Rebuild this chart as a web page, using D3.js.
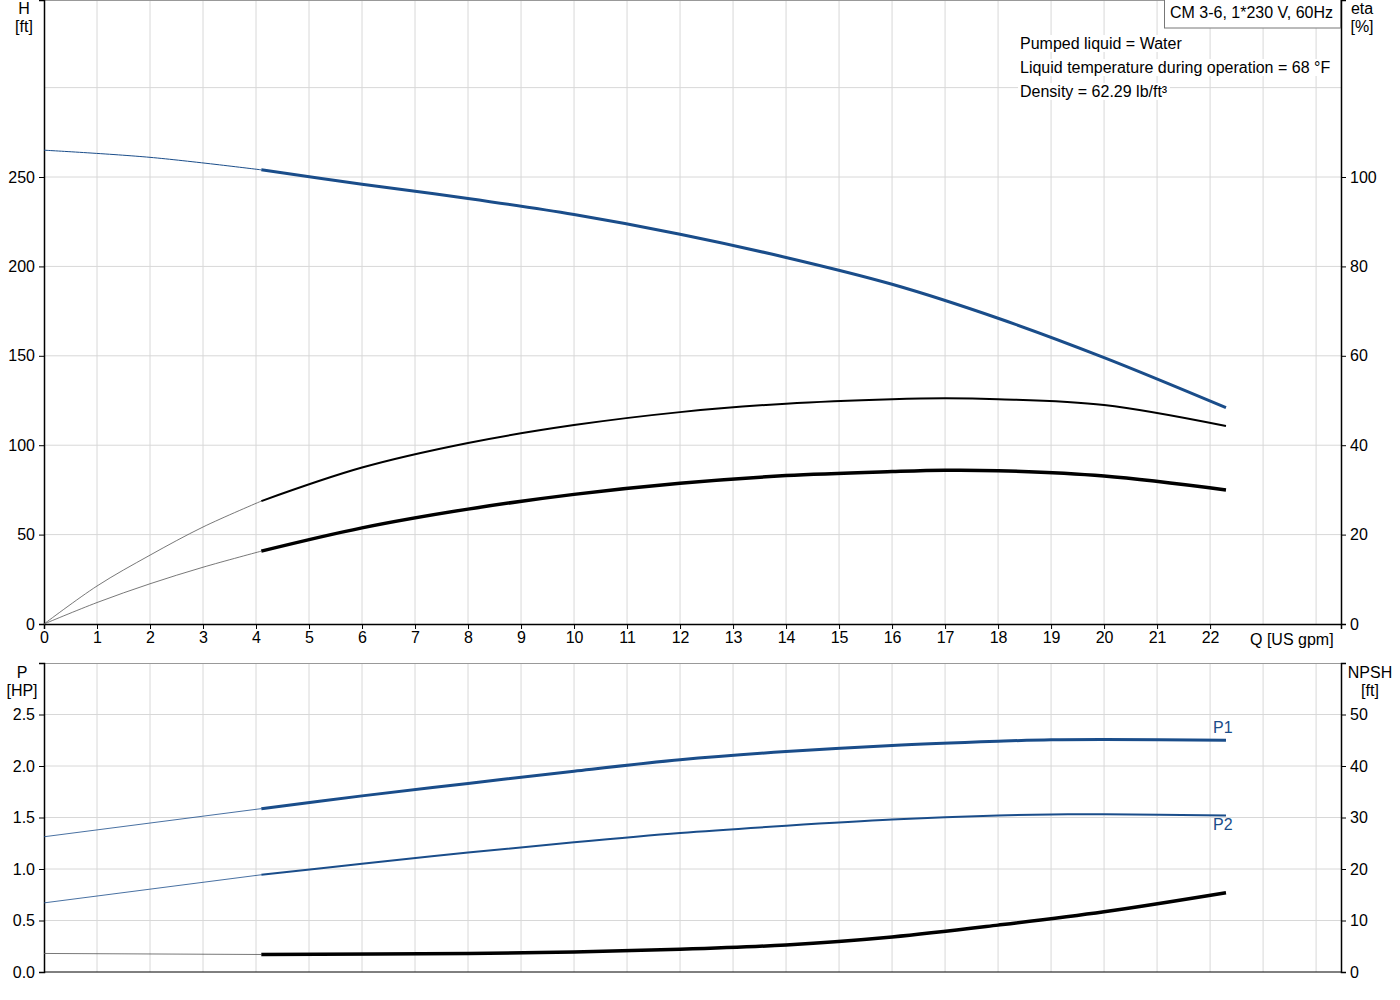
<!DOCTYPE html>
<html><head><meta charset="utf-8">
<script src="https://cdn.jsdelivr.net/npm/d3@7"></script>
<style>
body { margin: 0; background: #fff; }
text { font-family: Arial, "Liberation Sans", sans-serif; font-size: 16px; fill: #000; }
</style></head>
<body><div id="chart"></div>
<script>
// Data
const qH = [0, 2, 4.1, 6, 8, 10, 12, 14, 16, 18, 20, 22.3]
const head = [265, 261, 254, 246, 238, 229, 218, 205, 190, 171, 149, 121]
const qE = [0, 1, 2, 3, 4.1, 6, 8, 10, 12, 14, 16, 17, 18, 20, 22.3]
const eta = [0, 8.5, 15.4, 21.7, 27.5, 35, 40.5, 44.5, 47.4, 49.3, 50.3, 50.5, 50.3, 49, 44.3]
const etaTot = [0, 4.8, 9.0, 12.7, 16.3, 21.5, 25.7, 29, 31.5, 33.2, 34.1, 34.4, 34.3, 33.1, 30]
const qP = [0, 4.1, 6, 8, 10, 12, 14, 16, 18, 19, 20, 22.3]
const p1 = [1.313, 1.586, 1.71, 1.83, 1.95, 2.06, 2.14, 2.2, 2.24, 2.255, 2.258, 2.25]
const p2 = [0.671, 0.944, 1.05, 1.16, 1.26, 1.35, 1.42, 1.48, 1.52, 1.53, 1.532, 1.52]
const qN = [0, 4.1, 8, 10, 12, 14, 16, 18, 20, 22.3]
const npsh = [3.6, 3.4, 3.6, 3.9, 4.4, 5.25, 6.8, 9.1, 11.7, 15.4]
const qTicks = d3.range(0, 23)
const infoLines = ["Pumped liquid = Water", "Liquid temperature during operation = 68 °F", "Density = 62.29 lb/ft³"]
const BLUE = "#1a4d8a"
const QSPLIT = 4.1

const svg = d3.select("#chart").append("svg").attr("width", 1400).attr("height", 1000)
const x = d3.scaleLinear().domain([0, 24.47]).range([44, 1341])
const yH = d3.scaleLinear().domain([0, 349]).range([624, 0])
const yEta = d3.scaleLinear().domain([0, 139.6]).range([624, 0])
const yP = d3.scaleLinear().domain([0, 3.0]).range([972, 663])
const yN = d3.scaleLinear().domain([0, 60]).range([972, 663])

function grid(y0, y1, yScale, yTicks) {
    svg.append("g").selectAll("line.v").data(d3.range(1, 25)).join("line")
        .attr("x1", d => x(d)).attr("x2", d => x(d)).attr("y1", y0).attr("y2", y1)
        .attr("stroke", "#d8d8d8")
    svg.append("g").selectAll("line.h").data(yTicks).join("line")
        .attr("x1", 44).attr("x2", 1341).attr("y1", d => yScale(d)).attr("y2", d => yScale(d))
        .attr("stroke", "#d8d8d8")
}
grid(0, 624, yH, d3.range(50, 350, 50))
grid(663, 972, yP, d3.range(0.5, 3.0, 0.5))
svg.append("line").attr("x1", 44).attr("x2", 1341).attr("y1", 0.5).attr("y2", 0.5).attr("stroke", "#999")
svg.append("line").attr("x1", 44).attr("x2", 1341).attr("y1", 663.5).attr("y2", 663.5).attr("stroke", "#999")

// Axes
svg.append("g").attr("transform", "translate(44,0)")
    .call(d3.axisLeft(yH).tickValues(d3.range(0, 300, 50)).tickSize(5).tickPadding(4))
svg.append("g").attr("transform", "translate(1341,0)")
    .call(d3.axisRight(yEta).tickValues(d3.range(0, 120, 20)).tickSize(5).tickPadding(4))
svg.append("g").attr("transform", "translate(0,624)")
    .call(d3.axisBottom(x).tickValues(qTicks).tickSize(5).tickPadding(3))
svg.append("g").attr("transform", "translate(44,0)")
    .call(d3.axisLeft(yP).tickValues(d3.range(0, 2.6, 0.5)).tickFormat(d3.format(".1f")).tickSize(5).tickPadding(4))
svg.append("g").attr("transform", "translate(1341,0)")
    .call(d3.axisRight(yN).tickValues(d3.range(0, 60, 10)).tickSize(5).tickPadding(4))
svg.append("line").attr("x1", 44).attr("x2", 1341).attr("y1", 972).attr("y2", 972).attr("stroke", "#000")
svg.selectAll(".domain").attr("stroke", "#000").attr("stroke-width", 1.5)
svg.selectAll(".tick text").style("font-size", "16px").style("font-family", "Arial, 'Liberation Sans', sans-serif")
svg.selectAll(".tick line").attr("stroke", "#000")

function label(tx, ty, lines, anchor) {
    const t = svg.append("text").attr("x", tx).attr("y", ty).attr("text-anchor", anchor)
    lines.forEach((s, i) => t.append("tspan").attr("x", tx).attr("dy", i ? 18 : 0).text(s))
}
label(24, 14, ["H", "[ft]"], "middle")
label(1362, 14, ["eta", "[%]"], "middle")
label(22, 678, ["P", "[HP]"], "middle")
label(1370, 678, ["NPSH", "[ft]"], "middle")
svg.append("text").attr("x", 1250).attr("y", 645).text("Q [US gpm]")

// Curves: thin before QSPLIT, thick after
function curve(qs, vs, yScale, color, wThin, wThick, thinColor) {
    const pts = qs.map((q, i) => [q, vs[i]])
    const spline = d3.line().x(d => x(d[0])).y(d => yScale(d[1])).curve(d3.curveCatmullRom.alpha(0.5))
    const thin = pts.filter(d => d[0] <= QSPLIT)
    const thick = pts.filter(d => d[0] >= QSPLIT)
    if (thin.length > 1) svg.append("path").attr("d", spline(thin)).attr("fill", "none")
        .attr("stroke", thinColor || color).attr("stroke-width", wThin)
    svg.append("path").attr("d", spline(thick)).attr("fill", "none")
        .attr("stroke", color).attr("stroke-width", wThick)
}
curve(qH, head, yH, BLUE, 1, 3)
curve(qE, eta, yEta, "#000", 0.8, 2, "#555")
curve(qE, etaTot, yEta, "#000", 0.8, 3.5, "#555")
curve(qP, p1, yP, BLUE, 0.8, 3)
curve(qP, p2, yP, BLUE, 0.8, 2)
curve(qN, npsh, yN, "#000", 0.8, 3.5, "#555")

svg.append("text").attr("x", 1213).attr("y", 733).style("fill", BLUE).text("P1")
svg.append("text").attr("x", 1213).attr("y", 830).style("fill", BLUE).text("P2")

// Info box
svg.append("rect").attr("x", 1164.5).attr("y", -1).attr("width", 176).attr("height", 29)
    .attr("fill", "#fff").attr("stroke", "#777")
svg.append("text").attr("x", 1170).attr("y", 18).text("CM 3-6, 1*230 V, 60Hz")
infoLines.forEach((s, i) => {
    const t = svg.append("text").attr("x", 1020).attr("y", 49 + i * 24).text(s)
    const b = t.node().getBBox()
    svg.insert("rect", () => t.node()).attr("x", b.x - 2).attr("y", b.y).attr("width", b.width + 4)
        .attr("height", b.height).attr("fill", "#fff")
})
</script></body></html>
